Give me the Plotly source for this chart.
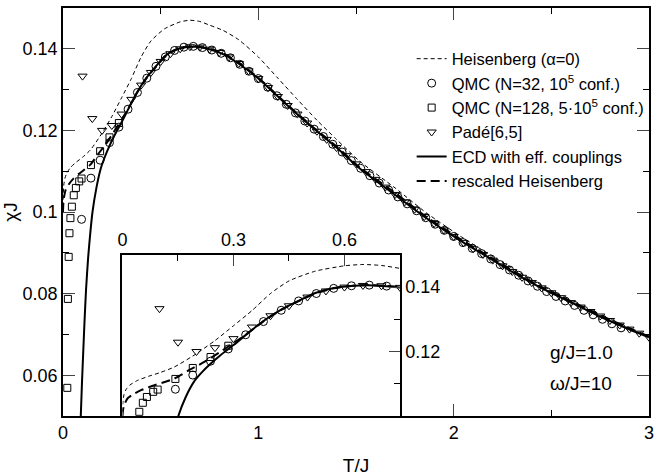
import plotly.graph_objects as go

# ---------------- data ----------------
T_ecd = [0.091, 0.097, 0.103, 0.110, 0.118, 0.129, 0.140, 0.151, 0.171, 0.193, 0.215,
         0.238, 0.264, 0.300, 0.336, 0.380, 0.429, 0.474, 0.519, 0.572, 0.626, 0.680,
         0.750, 0.814, 0.898, 1.000, 1.100, 1.203, 1.305, 1.400, 1.524, 1.694, 1.863,
         2.030, 2.150, 2.300, 2.455, 2.624, 2.760, 2.900, 3.000]
chi_ecd = [0.050, 0.058, 0.065, 0.073, 0.081, 0.089, 0.095, 0.100, 0.1059, 0.1106, 0.1136,
           0.1162, 0.1188, 0.1220, 0.1254, 0.1294, 0.1330, 0.1356, 0.1381, 0.1397, 0.1404, 0.1405,
           0.1399, 0.1388, 0.1364, 0.1327, 0.1283, 0.1238, 0.1196, 0.1158, 0.1105, 0.1044, 0.0984,
           0.0931, 0.0897, 0.0853, 0.0812, 0.0773, 0.0741, 0.0712, 0.0693]

T_heis = [0, 0.001, 0.004, 0.01, 0.02, 0.04, 0.07, 0.10, 0.14, 0.19, 0.25, 0.30, 0.35, 0.40,
          0.45, 0.52, 0.60, 0.65, 0.70, 0.75, 0.82, 0.90, 1.0, 1.1, 1.2, 1.3, 1.4, 1.52, 1.7,
          1.86, 2.03, 2.2, 2.4, 2.6, 2.8, 3.0]
chi_heis = [0.1013, 0.1040, 0.1066, 0.1083, 0.1096, 0.1110, 0.1123, 0.1134, 0.1152, 0.1186,
            0.1234, 0.1280, 0.1327, 0.1380, 0.1419, 0.1449, 0.1466, 0.1470, 0.1467, 0.1458,
            0.1445, 0.1422, 0.1380, 0.1328, 0.1276, 0.1225, 0.1178, 0.1124, 0.1059, 0.0998,
            0.0942, 0.0891, 0.0834, 0.0782, 0.0735, 0.0694]

T_resc = [0, 0.002, 0.006, 0.014, 0.03, 0.05, 0.08, 0.11, 0.14, 0.18, 0.22, 0.26, 0.30, 0.34,
          0.38, 0.43, 0.47, 0.52, 0.57, 0.63, 0.68, 0.75, 0.82, 0.90, 1.0, 1.1, 1.2, 1.3, 1.4,
          1.52, 1.7, 1.86, 2.03, 2.15, 2.3, 2.45, 2.62, 2.76, 2.9, 3.0]
chi_resc = [0.1000, 0.1022, 0.1038, 0.1055, 0.1068, 0.1080, 0.1093, 0.1104, 0.1116, 0.1142,
            0.1167, 0.1196, 0.1226, 0.1258, 0.1293, 0.1330, 0.1353, 0.1379, 0.1396, 0.1405,
            0.1406, 0.1400, 0.1389, 0.1366, 0.1329, 0.1285, 0.1241, 0.1200, 0.1161, 0.1109,
            0.1047, 0.0988, 0.0935, 0.0900, 0.0857, 0.0816, 0.0777, 0.0745, 0.0715, 0.0695]

T_qmc32 = [0.095, 0.143, 0.190, 0.238, 0.286, 0.333, 0.381, 0.429, 0.476, 0.524, 0.571,
           0.619, 0.667, 0.714, 0.762, 0.810, 0.857, 0.905, 0.952, 1.000, 1.048, 1.095,
           1.143, 1.190, 1.238, 1.286, 1.333, 1.381, 1.429, 1.476, 1.524, 1.571, 1.619,
           1.667, 1.714, 1.762, 1.810, 1.857, 1.905, 1.952, 2.000, 2.048, 2.095, 2.143,
           2.190, 2.238, 2.286, 2.333, 2.381, 2.429, 2.476, 2.524, 2.571, 2.619, 2.667,
           2.714, 2.762, 2.810, 2.857]
chi_qmc32 = [0.0982, 0.1083, 0.1127, 0.1170, 0.1208, 0.1252, 0.1293, 0.1328, 0.1357, 0.1380,
             0.1396, 0.1404, 0.1406, 0.1403, 0.1397, 0.1389, 0.1378, 0.1362, 0.1345, 0.1327,
             0.1306, 0.1285, 0.1264, 0.1243, 0.1223, 0.1203, 0.1185, 0.1166, 0.1147, 0.1126,
             0.1107, 0.1089, 0.1071, 0.1054, 0.1037, 0.1020, 0.1003, 0.0986, 0.0970, 0.0955,
             0.0940, 0.0925, 0.0911, 0.0898, 0.0885, 0.0871, 0.0858, 0.0845, 0.0831, 0.0818,
             0.0805, 0.0793, 0.0782, 0.0771, 0.0759, 0.0748, 0.0737, 0.0726, 0.0716]

T_qmc128 = [0.022, 0.025, 0.029, 0.033, 0.038, 0.0455, 0.055, 0.066, 0.083, 0.095,
            0.143, 0.190, 0.238, 0.286]
chi_qmc128 = [0.0569, 0.0787, 0.0890, 0.0948, 0.0985, 0.1013, 0.1041, 0.1059, 0.1075, 0.1082,
              0.1115, 0.1149, 0.1183, 0.1218]

T_pade = [0.10, 0.15, 0.20, 0.25, 0.30, 0.35, 0.40, 0.45, 0.50, 0.55, 0.60, 0.65, 0.70, 0.75,
          0.80, 0.85, 0.90, 0.95, 1.00, 1.05, 1.10, 1.15, 1.20, 1.25, 1.30, 1.35, 1.40, 1.45,
          1.50, 1.55, 1.60, 1.65, 1.70, 1.75, 1.80, 1.85, 1.90, 1.95, 2.00, 2.05, 2.10, 2.15,
          2.20, 2.25, 2.30, 2.35, 2.40, 2.45, 2.50, 2.55, 2.60, 2.65, 2.70, 2.75, 2.80, 2.85,
          2.90, 2.95, 3.00]
chi_pade = [0.1333, 0.1229, 0.1200, 0.1212, 0.1240, 0.1276, 0.1311, 0.1342, 0.1369, 0.1388,
            0.1400, 0.1405, 0.1404, 0.1399, 0.1391, 0.1380, 0.1364, 0.1346, 0.1327, 0.1305,
            0.1283, 0.1261, 0.1240, 0.1218, 0.1198, 0.1178, 0.1158, 0.1138, 0.1118, 0.1099,
            0.1080, 0.1061, 0.1043, 0.1025, 0.1007, 0.0989, 0.0972, 0.0956, 0.0940, 0.0925,
            0.0910, 0.0896, 0.0882, 0.0868, 0.0854, 0.0840, 0.0827, 0.0814, 0.0802, 0.0790,
            0.0778, 0.0767, 0.0756, 0.0745, 0.0734, 0.0723, 0.0713, 0.0703, 0.0693]

main_xticks = [0, 1, 2, 3]
main_yticks = [0.06, 0.08, 0.10, 0.12, 0.14]
inset_xticks = [0, 0.3, 0.6]
inset_yticks = [0.12, 0.14]

labels = ["Heisenberg (α=0)", "QMC (N=32, 10<sup>5</sup> conf.)",
          "QMC (N=128, 5·10<sup>5</sup> conf.)", "Padé[6,5]",
          "ECD with eff. couplings", "rescaled Heisenberg"]

FONT = "Liberation Sans, Arial, Helvetica, sans-serif"
BLACK = "#000000"

fig = go.Figure()

def add_all(xa, ya, show):
    grp = (lambda g: g) if show else (lambda g: None)
    fig.add_trace(go.Scatter(x=T_qmc32, y=chi_qmc32, mode="markers", name=labels[1],
                             marker=dict(symbol="circle-open", size=8, color=BLACK, line=dict(width=1)),
                             xaxis=xa, yaxis=ya, showlegend=show, legendrank=2, legendgroup=grp("b")))
    fig.add_trace(go.Scatter(x=T_qmc128, y=chi_qmc128, mode="markers", name=labels[2],
                             marker=dict(symbol="square-open", size=7, color=BLACK, line=dict(width=1)),
                             xaxis=xa, yaxis=ya, showlegend=show, legendrank=3, legendgroup=grp("c")))
    fig.add_trace(go.Scatter(x=T_pade, y=chi_pade, mode="markers", name=labels[3],
                             marker=dict(symbol="triangle-down-open", size=8, color=BLACK, line=dict(width=1)),
                             xaxis=xa, yaxis=ya, showlegend=show, legendrank=4, legendgroup=grp("d")))
    fig.add_trace(go.Scatter(x=T_heis, y=chi_heis, mode="lines", name=labels[0],
                             line=dict(color=BLACK, width=1, dash="4px,3px", shape="spline", smoothing=0.6),
                             xaxis=xa, yaxis=ya, showlegend=show, legendrank=1, legendgroup=grp("a")))
    fig.add_trace(go.Scatter(x=T_ecd, y=chi_ecd, mode="lines", name=labels[4],
                             line=dict(color=BLACK, width=2, shape="spline", smoothing=0.6),
                             xaxis=xa, yaxis=ya, showlegend=show, legendrank=5, legendgroup=grp("e")))
    fig.add_trace(go.Scatter(x=T_resc, y=chi_resc, mode="lines", name=labels[5],
                             line=dict(color=BLACK, width=2, dash="9px,5px", shape="spline", smoothing=0.6),
                             xaxis=xa, yaxis=ya, showlegend=show, legendrank=6, legendgroup=grp("f")))

add_all("x", "y", True)
add_all("x2", "y2", False)

tick_font = dict(family=FONT, size=18, color=BLACK)
title_font = dict(family=FONT, size=19, color=BLACK)

fig.update_layout(
    width=656, height=476,
    margin=dict(l=63, r=2, t=8, b=55),
    paper_bgcolor="white", plot_bgcolor="white",
    font=dict(family=FONT, size=16, color=BLACK),
    showlegend=True,
    legend=dict(x=0.595, y=0.918, xanchor="left", yanchor="top", bgcolor="rgba(0,0,0,0)",
                font=dict(family=FONT, size=16.5, color=BLACK), traceorder="grouped",
                tracegroupgap=0),
    xaxis=dict(domain=[0, 1], range=[0, 3], tickmode="array", tickvals=main_xticks,
               ticks="inside", ticklen=12, ticklabeloverflow="allow",
               tickwidth=1, showline=True, linewidth=1.5, linecolor=BLACK, mirror="ticks",
               showgrid=False, zeroline=False, tickfont=tick_font,
               minor=dict(dtick=0.5, ticks="inside", ticklen=6, tickwidth=1, tickcolor=BLACK, showgrid=False),
               title=dict(text="T/J", font=title_font, standoff=17)),
    yaxis=dict(domain=[0, 1], range=[0.05, 0.15], tickmode="array", tickvals=main_yticks,
               ticktext=["0.06", "0.08", "0.1", "0.12", "0.14"], ticks="inside", ticklen=12,
               tickwidth=1, showline=True, linewidth=1.5, linecolor=BLACK, mirror="ticks",
               showgrid=False, zeroline=False, tickfont=tick_font,
               minor=dict(dtick=0.01, ticks="inside", ticklen=6, tickwidth=1, tickcolor=BLACK, showgrid=False),
               title=dict(text="χJ", font=title_font, standoff=0)),
    xaxis2=dict(domain=[0.1015, 0.575], range=[0, 0.75], anchor="y2", side="top",
                tickmode="array", tickvals=inset_xticks, ticks="inside", ticklen=11, tickwidth=1,
                showline=True, linewidth=1.5, linecolor=BLACK, mirror=True,
                showgrid=False, zeroline=False, tickfont=tick_font,
                minor=dict(tickmode="array", tickvals=[0.15, 0.45], ticks="inside", ticklen=6,
                           tickwidth=1, tickcolor=BLACK, showgrid=False)),
    yaxis2=dict(domain=[0, 0.395], range=[0.10, 0.15], anchor="x2", side="right",
                tickmode="array", tickvals=inset_yticks, ticks="inside", ticklen=11, tickwidth=1,
                showline=True, linewidth=1.5, linecolor=BLACK, mirror=True,
                showgrid=False, zeroline=False, tickfont=tick_font,
                minor=dict(tickmode="array", tickvals=[0.11, 0.13], ticks="inside", ticklen=6,
                           tickwidth=1, tickcolor=BLACK, showgrid=False)),
    annotations=[
        dict(text="g/J=1.0", x=0.827, y=0.155, xref="paper", yref="paper", xanchor="left",
             yanchor="middle", showarrow=False, font=dict(family=FONT, size=19, color=BLACK)),
        dict(text="ω/J=10", x=0.827, y=0.08, xref="paper", yref="paper", xanchor="left",
             yanchor="middle", showarrow=False, font=dict(family=FONT, size=19, color=BLACK)),
    ],
)

fig.write_html("out.html")
